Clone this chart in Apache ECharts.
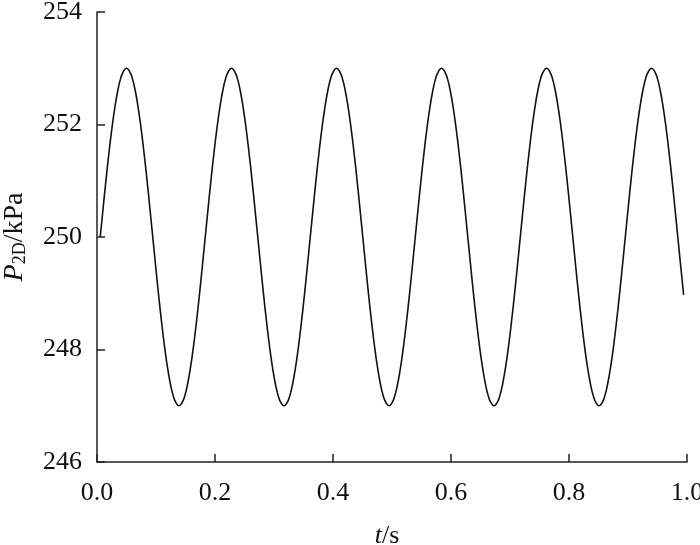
<!DOCTYPE html>
<html>
<head>
<meta charset="utf-8">
<script src="https://cdn.jsdelivr.net/npm/echarts@6/dist/echarts.min.js"></script>
<style>
  html, body { margin: 0; padding: 0; background: #fff; }
  #chart { width: 700px; height: 545px; }
</style>
</head>
<body>
<div id="chart"></div>
<script>
// sample times: first point and spacing
const t0 = 0.0055
const dt = 0.004944

// pressure P2D (kPa)
const pressure = [
  250.00, 250.52, 251.03, 251.50, 251.93, 252.30, 252.60, 252.82, 252.95,
  253.00, 252.95, 252.82, 252.60, 252.30, 251.93, 251.50, 251.03, 250.52,
  250.00, 249.48, 248.97, 248.50, 248.07, 247.70, 247.40, 247.18, 247.05,
  247.00, 247.05, 247.18, 247.40, 247.70, 248.07, 248.50, 248.97, 249.48,
  250.00, 250.52, 251.03, 251.50, 251.93, 252.30, 252.60, 252.82, 252.95,
  253.00, 252.95, 252.82, 252.60, 252.30, 251.93, 251.50, 251.03, 250.52,
  250.00, 249.48, 248.97, 248.50, 248.07, 247.70, 247.40, 247.18, 247.05,
  247.00, 247.05, 247.18, 247.40, 247.70, 248.07, 248.50, 248.97, 249.48,
  250.00, 250.52, 251.03, 251.50, 251.93, 252.30, 252.60, 252.82, 252.95,
  253.00, 252.95, 252.82, 252.60, 252.30, 251.93, 251.50, 251.03, 250.52,
  250.00, 249.48, 248.97, 248.50, 248.07, 247.70, 247.40, 247.18, 247.05,
  247.00, 247.05, 247.18, 247.40, 247.70, 248.07, 248.50, 248.97, 249.48,
  250.00, 250.52, 251.03, 251.50, 251.93, 252.30, 252.60, 252.82, 252.95,
  253.00, 252.95, 252.82, 252.60, 252.30, 251.93, 251.50, 251.03, 250.52,
  250.00, 249.48, 248.97, 248.50, 248.07, 247.70, 247.40, 247.18, 247.05,
  247.00, 247.05, 247.18, 247.40, 247.70, 248.07, 248.50, 248.97, 249.48,
  250.00, 250.52, 251.03, 251.50, 251.93, 252.30, 252.60, 252.82, 252.95,
  253.00, 252.95, 252.82, 252.60, 252.30, 251.93, 251.50, 251.03, 250.52,
  250.00, 249.48, 248.97, 248.50, 248.07, 247.70, 247.40, 247.18, 247.05,
  247.00, 247.05, 247.18, 247.40, 247.70, 248.07, 248.50, 248.97, 249.48,
  250.00, 250.52, 251.03, 251.50, 251.93, 252.30, 252.60, 252.82, 252.95,
  253.00, 252.95, 252.82, 252.60, 252.30, 251.93, 251.50, 251.03, 250.52,
  250.00, 249.48, 248.97
]

const xTicks = [0, 0.2, 0.4, 0.6, 0.8, 1.0]
const yTicks = [246, 248, 250, 252, 254]

const font = 'Liberation Serif'
const chart = echarts.init(document.getElementById('chart'))

const points = pressure.map((p, i) => [t0 + i * dt, p])

const axisCommon = {
  axisLine: { show: true, lineStyle: { color: '#222', width: 1.5 } },
  axisTick: { show: true, inside: true, length: 8, lineStyle: { color: '#222', width: 1.5 } },
  splitLine: { show: false },
  axisLabel: { color: '#111', fontFamily: font, fontSize: 26 }
}

chart.setOption({
  animation: false,
  grid: { left: 97, right: 13, top: 12, bottom: 83, containLabel: false, outerBoundsMode: 'none' },
  xAxis: {
    type: 'value',
    min: xTicks[0],
    max: xTicks[xTicks.length - 1],
    interval: 0.2,
    ...axisCommon,
    axisLabel: { ...axisCommon.axisLabel, margin: 18, formatter: v => v.toFixed(1) },
    name: '{i|t}/s',
    nameLocation: 'middle',
    nameGap: 61,
    nameTextStyle: {
      color: '#111', fontFamily: font, fontSize: 26, padding: [0, 10, 0, 0],
      rich: { i: { fontFamily: font, fontSize: 26, fontStyle: 'italic', color: '#111' } }
    }
  },
  yAxis: {
    type: 'value',
    min: yTicks[0],
    max: yTicks[yTicks.length - 1],
    interval: 2,
    ...axisCommon,
    axisLabel: { ...axisCommon.axisLabel, margin: 15 },
    name: '{i|P}{sub|2D}/kPa',
    nameLocation: 'middle',
    nameGap: 68,
    nameTextStyle: {
      color: '#111', fontFamily: font, fontSize: 28,
      rich: {
        i: { fontFamily: font, fontSize: 28, fontStyle: 'italic', color: '#111' },
        sub: { fontFamily: font, fontSize: 18, color: '#111', verticalAlign: 'bottom', padding: [10, 0, 0, 0] }
      }
    }
  },
  series: [{
    type: 'line',
    data: points,
    smooth: true,
    symbol: 'none',
    lineStyle: { color: '#111', width: 1.6 }
  }]
})
</script>
</body>
</html>
